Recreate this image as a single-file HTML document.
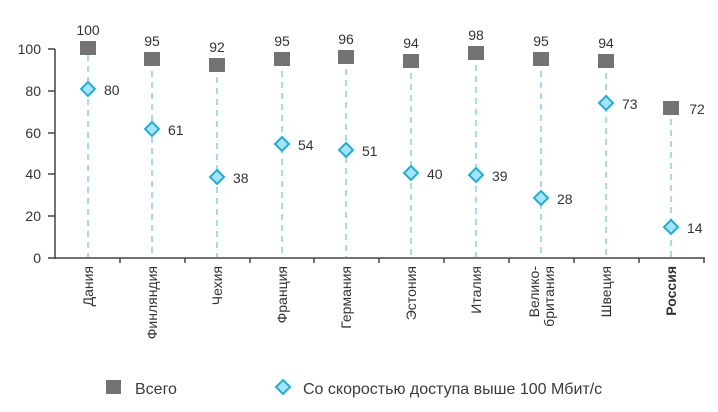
<!DOCTYPE html>
<html><head><meta charset="utf-8"><style>
body{margin:0;background:#fff;}
text{font-family:"Liberation Sans",sans-serif;}
</style></head><body>
<svg width="718" height="407" xmlns="http://www.w3.org/2000/svg">
<g font-size="14" fill="#333" text-anchor="end">
<text x="41" y="54">100</text><text x="41" y="96">80</text><text x="41" y="138">60</text>
<text x="41" y="179">40</text><text x="41" y="221">20</text><text x="41" y="263">0</text>
</g>
<g stroke="#444" stroke-width="1.5">
<line x1="55" y1="49" x2="55" y2="259"/>
<line x1="48" y1="258" x2="705" y2="258"/>
<line x1="48" y1="49" x2="55" y2="49"/><line x1="48" y1="91" x2="55" y2="91"/>
<line x1="48" y1="133" x2="55" y2="133"/><line x1="48" y1="174" x2="55" y2="174"/>
<line x1="48" y1="216" x2="55" y2="216"/>
<line x1="120" y1="258" x2="120" y2="263"/><line x1="185" y1="258" x2="185" y2="263"/>
<line x1="250" y1="258" x2="250" y2="263"/><line x1="314" y1="258" x2="314" y2="263"/>
<line x1="379" y1="258" x2="379" y2="263"/><line x1="444" y1="258" x2="444" y2="263"/>
<line x1="509" y1="258" x2="509" y2="263"/><line x1="574" y1="258" x2="574" y2="263"/>
<line x1="639" y1="258" x2="639" y2="263"/><line x1="704" y1="258" x2="704" y2="263"/>
</g>
<g stroke="#7fd3ec" stroke-width="1.5" stroke-dasharray="6,5">
<line x1="88" y1="55" x2="88" y2="257"/><line x1="152" y1="60" x2="152" y2="257"/>
<line x1="217" y1="66" x2="217" y2="257"/><line x1="282" y1="60" x2="282" y2="257"/>
<line x1="346" y1="58" x2="346" y2="257"/><line x1="411" y1="62" x2="411" y2="257"/>
<line x1="476" y1="54" x2="476" y2="257"/><line x1="541" y1="60" x2="541" y2="257"/>
<line x1="606" y1="62" x2="606" y2="257"/><line x1="671" y1="108" x2="671" y2="257"/>
</g>
<g fill="#737373">
<rect x="80" y="41" width="16" height="14"/><rect x="144" y="52" width="16" height="14"/>
<rect x="209" y="58" width="16" height="14"/><rect x="274" y="52" width="16" height="14"/>
<rect x="338" y="50" width="16" height="14"/><rect x="403" y="54" width="16" height="14"/>
<rect x="468" y="46" width="16" height="14"/><rect x="533" y="52" width="16" height="14"/>
<rect x="598" y="54" width="16" height="14"/><rect x="663" y="101" width="16" height="14"/>
</g>
<g font-size="14" fill="#333" text-anchor="middle">
<text x="88" y="35">100</text><text x="152" y="46">95</text><text x="217" y="52">92</text>
<text x="282" y="46">95</text><text x="346" y="44">96</text><text x="411" y="48">94</text>
<text x="476" y="40">98</text><text x="541" y="46">95</text><text x="606" y="48">94</text>
<text x="697" y="114">72</text>
</g>
<g fill="#a8e4f7" stroke="#1ab0e3" stroke-width="2">
<path d="M88 82l7 7-7 7-7-7z"/><path d="M152 122l7 7-7 7-7-7z"/>
<path d="M217 170l7 7-7 7-7-7z"/><path d="M282 137l7 7-7 7-7-7z"/>
<path d="M346 143l7 7-7 7-7-7z"/><path d="M411 166l7 7-7 7-7-7z"/>
<path d="M476 168l7 7-7 7-7-7z"/><path d="M541 191l7 7-7 7-7-7z"/>
<path d="M606 96l7 7-7 7-7-7z"/><path d="M671 220l7 7-7 7-7-7z"/>
</g>
<g font-size="14" fill="#333">
<text x="104" y="95">80</text><text x="168" y="135">61</text><text x="233" y="183">38</text>
<text x="298" y="150">54</text><text x="362" y="156">51</text><text x="427" y="179">40</text>
<text x="492" y="181">39</text><text x="557" y="204">28</text><text x="622" y="109">73</text>
<text x="687" y="233">14</text>
</g>
<g font-size="14" fill="#333" text-anchor="end">
<text transform="translate(93,266) rotate(-90)">Дания</text>
<text transform="translate(157,266) rotate(-90)">Финляндия</text>
<text transform="translate(222,266) rotate(-90)">Чехия</text>
<text transform="translate(287,266) rotate(-90)">Франция</text>
<text transform="translate(351,266) rotate(-90)">Германия</text>
<text transform="translate(416,266) rotate(-90)">Эстония</text>
<text transform="translate(481,266) rotate(-90)">Италия</text>
<text transform="translate(539,266) rotate(-90)">Велико-</text>
<text transform="translate(554,266) rotate(-90)">британия</text>
<text transform="translate(611,266) rotate(-90)">Швеция</text>
<text transform="translate(676,266) rotate(-90)" font-weight="bold">Россия</text>
</g>
<rect x="106" y="380" width="15" height="14" fill="#737373"/>
<text x="135" y="394" font-size="16" fill="#3a3a3a">Всего</text>
<path d="M283 380l7 7-7 7-7-7z" fill="#a8e4f7" stroke="#1ab0e3" stroke-width="2"/>
<text x="303" y="394" font-size="16" fill="#3a3a3a">Со скоростью доступа выше 100 Мбит/с</text>
</svg>
</body></html>
